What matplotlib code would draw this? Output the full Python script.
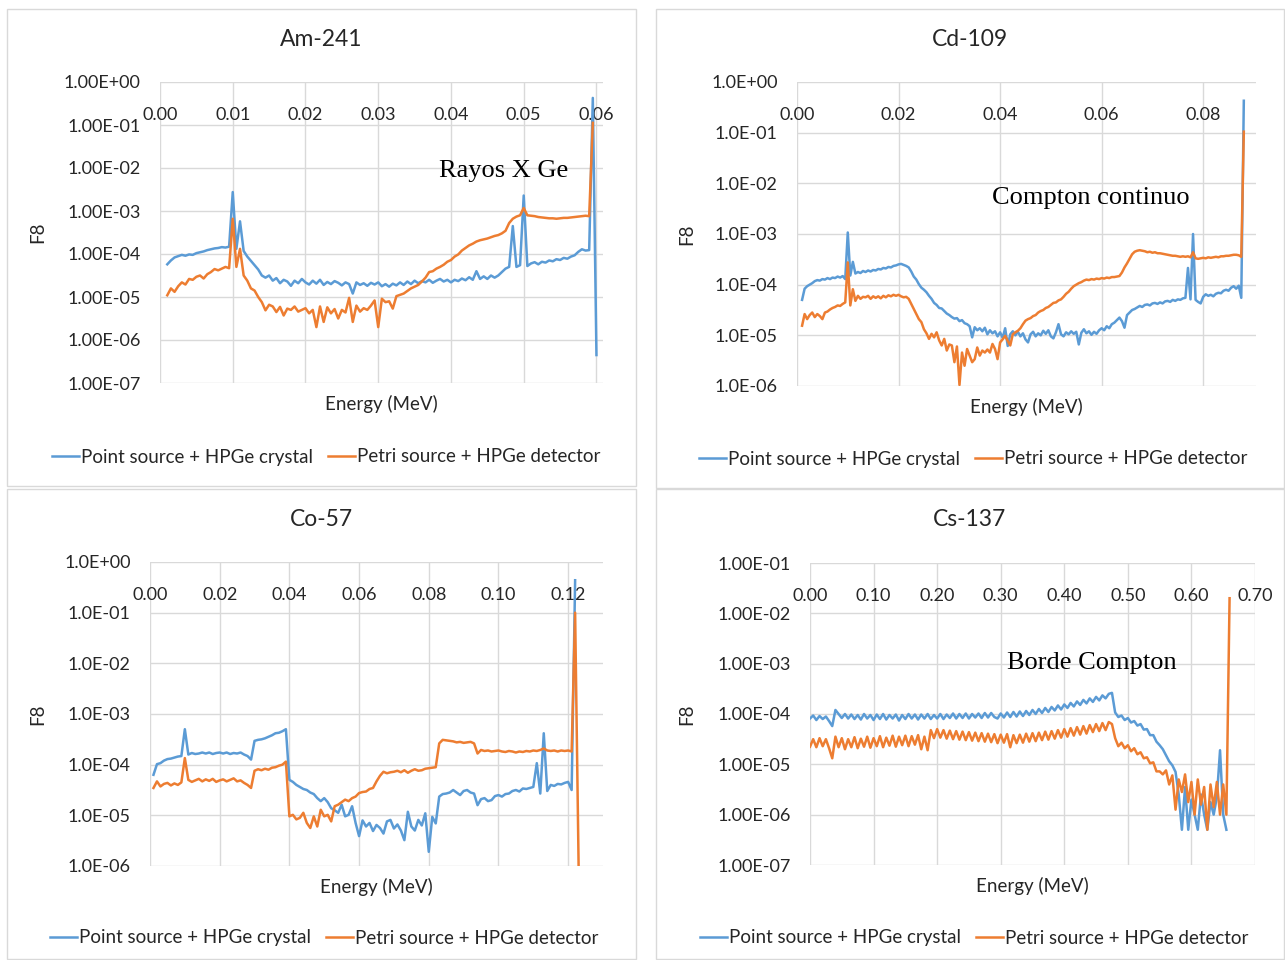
import numpy as np
import matplotlib.pyplot as plt
from matplotlib.patches import Rectangle
from matplotlib.ticker import FixedLocator, FuncFormatter, NullLocator

plt.rcParams['font.family'] = ['Lato', 'DejaVu Sans']

BLUE = '#5B9BD5'
ORANGE = '#ED7D31'
GRID = '#D9D9D9'
TEXT = '#262626'

labels = ['Point source + HPGe crystal', 'Petri source + HPGe detector']

# F8 tallies, stored as log10(F8) per energy bin
# Am-241: bins every 0.0005 MeV starting at 0.001 MeV
am_start, am_step = 0.001, 0.0005
am_point_log = [
    -4.24, -4.15, -4.08, -4.05, -4.02, -4.04, -4.01, -4.02, -3.98, -3.96,
    -3.94, -3.91, -3.89, -3.87, -3.86, -3.84, -3.85, -3.83, -2.56, -3.88,
    -3.24, -3.93, -4.06, -4.16, -4.26, -4.36, -4.50, -4.55, -4.50, -4.62,
    -4.56, -4.68, -4.60, -4.64, -4.74, -4.62, -4.68, -4.58, -4.66, -4.71,
    -4.62, -4.69, -4.60, -4.72, -4.65, -4.70, -4.63, -4.67, -4.73, -4.66,
    -4.70, -4.92, -4.66, -4.72, -4.68, -4.74, -4.67, -4.71, -4.66, -4.75,
    -4.70, -4.76, -4.69, -4.73, -4.66, -4.72, -4.64, -4.70, -4.62, -4.68,
    -4.63, -4.66, -4.60, -4.67, -4.62, -4.58, -4.64, -4.60, -4.66, -4.60,
    -4.63, -4.57, -4.61, -4.54, -4.60, -4.40, -4.58, -4.52, -4.58, -4.50,
    -4.55, -4.50, -4.42, -4.34, -4.30, -3.35, -4.30, -4.26, -2.64, -4.28,
    -4.22, -4.19, -4.24, -4.18, -4.20, -4.15, -4.17, -4.12, -4.14, -4.09,
    -4.11, -4.06, -4.03, -3.95, -3.89, -3.92, -3.91, -0.37, -6.35]
am_petri_log = [
    -4.96, -4.80, -4.88, -4.75, -4.66, -4.71, -4.58, -4.60, -4.53, -4.50,
    -4.57, -4.47, -4.42, -4.35, -4.38, -4.34, -4.30, -4.33, -3.18, -4.30,
    -3.88, -4.50, -4.62, -4.80, -4.85, -5.00, -5.12, -5.31, -5.18, -5.22,
    -5.35, -5.23, -5.43, -5.27, -5.30, -5.22, -5.34, -5.30, -5.26, -5.38,
    -5.30, -5.70, -5.22, -5.58, -5.24, -5.38, -5.28, -5.50, -5.30, -5.36,
    -5.02, -5.58, -5.20, -5.34, -5.26, -5.30, -5.20, -5.08, -5.70, -5.04,
    -5.12, -5.10, -5.27, -4.98, -4.95, -4.92, -4.86, -4.80, -4.76, -4.72,
    -4.64, -4.55, -4.42, -4.40, -4.34, -4.30, -4.25, -4.18, -4.14, -4.06,
    -4.01, -3.92, -3.86, -3.80, -3.76, -3.71, -3.68, -3.66, -3.64, -3.61,
    -3.58, -3.56, -3.52, -3.46, -3.28, -3.18, -3.13, -3.10, -2.93, -3.10,
    -3.11, -3.12, -3.14, -3.15, -3.16, -3.17, -3.17, -3.18, -3.17, -3.16,
    -3.16, -3.15, -3.14, -3.13, -3.12, -3.11, -3.12, -0.95]

# Cd-109: bins every 0.0005 MeV starting at 0.001 MeV
cd_start, cd_step = 0.001, 0.0005
cd_point_log = [
    -4.30, -4.08, -4.03, -4.00, -3.97, -3.93, -3.91, -3.92, -3.89, -3.90,
    -3.87, -3.89, -3.86, -3.87, -3.84, -3.86, -3.83, -3.89, -2.97, -3.82,
    -3.55, -3.78, -3.75, -3.77, -3.73, -3.75, -3.72, -3.74, -3.71, -3.72,
    -3.69, -3.70, -3.67, -3.68, -3.65, -3.66, -3.63, -3.62, -3.60, -3.59,
    -3.61, -3.63, -3.66, -3.74, -3.84, -3.90, -3.99, -4.06, -4.10, -4.15,
    -4.22, -4.28, -4.36, -4.40, -4.46, -4.47, -4.52, -4.57, -4.60, -4.64,
    -4.67, -4.66, -4.72, -4.70, -4.76, -4.78, -4.82, -5.04, -4.84, -4.90,
    -4.86, -4.92, -4.85, -4.98, -4.90, -4.96, -4.92, -5.02, -4.94, -5.05,
    -4.86, -5.21, -4.98, -4.92, -5.00, -4.93, -5.02, -4.96, -5.08, -5.14,
    -4.98, -4.93, -5.02, -4.96, -5.00, -4.91, -4.97, -4.90, -5.02, -5.06,
    -4.94, -4.78, -4.98, -5.02, -4.94, -4.98, -4.92, -4.97, -4.93, -5.18,
    -4.95, -4.88, -4.96, -4.92, -4.99, -4.93, -4.97, -4.90, -4.86, -4.90,
    -4.82, -4.86, -4.78, -4.75, -4.70, -4.65, -4.72, -4.85, -4.60, -4.55,
    -4.50, -4.48, -4.45, -4.42, -4.44, -4.40, -4.39, -4.41, -4.37, -4.36,
    -4.38, -4.35, -4.37, -4.33, -4.32, -4.34, -4.30, -4.32, -4.29, -4.30,
    -4.27, -4.26, -3.67, -4.29, -3.00, -4.30, -4.34, -4.37, -4.24, -4.19,
    -4.22, -4.20, -4.23, -4.18, -4.16, -4.17, -4.12, -4.10, -4.12, -4.06,
    -4.03, -4.08, -4.02, -4.26, -0.37]
cd_petri_log = [
    -4.81, -4.58, -4.68, -4.60, -4.55, -4.64, -4.58, -4.62, -4.68, -4.55,
    -4.53, -4.49, -4.46, -4.44, -4.41, -4.42, -4.38, -4.35, -3.56, -4.41,
    -4.09, -4.32, -4.22, -4.28, -4.24, -4.25, -4.22, -4.28, -4.23, -4.26,
    -4.23, -4.27, -4.22, -4.25, -4.21, -4.23, -4.20, -4.22, -4.20, -4.23,
    -4.25, -4.24, -4.28, -4.38, -4.48, -4.58, -4.68, -4.74, -4.88, -4.96,
    -5.07, -4.97, -5.04, -4.94, -5.10, -5.20, -5.07, -5.30, -5.18, -5.20,
    -5.53, -5.22, -5.98, -5.34, -5.60, -5.27, -5.40, -5.53, -5.47, -5.24,
    -5.40, -5.30, -5.34, -5.28, -5.34, -5.17, -5.27, -5.47, -5.14, -5.08,
    -5.01, -5.11, -5.20, -4.98, -4.94, -4.91, -4.86, -4.78, -4.71, -4.68,
    -4.66, -4.62, -4.60, -4.55, -4.52, -4.50, -4.46, -4.44, -4.40, -4.36,
    -4.35, -4.31, -4.29, -4.24, -4.18, -4.14, -4.08, -4.03, -4.00, -3.97,
    -3.95, -3.92, -3.90, -3.91, -3.89, -3.90, -3.88, -3.89, -3.87, -3.88,
    -3.86, -3.87, -3.85, -3.85, -3.84, -3.83, -3.76, -3.66, -3.58, -3.49,
    -3.40, -3.35, -3.33, -3.32, -3.33, -3.34, -3.36, -3.35, -3.37, -3.36,
    -3.38, -3.38, -3.39, -3.40, -3.41, -3.42, -3.43, -3.43, -3.44, -3.45,
    -3.44, -3.45, -3.44, -3.46, -3.36, -3.48, -3.49, -3.48, -3.47, -3.48,
    -3.46, -3.47, -3.46, -3.45, -3.46, -3.44, -3.44, -3.43, -3.43, -3.42,
    -3.41, -3.41, -3.42, -3.45, -0.98]

# Co-57: bins every 0.001 MeV starting at 0.001 MeV
co_start, co_step = 0.001, 0.001
co_point_log = [
    -4.20, -3.99, -3.97, -3.92, -3.89, -3.88, -3.86, -3.84, -3.83, -3.30,
    -3.80, -3.77, -3.79, -3.78, -3.76, -3.78, -3.76, -3.79, -3.77, -3.76,
    -3.78, -3.76, -3.79, -3.77, -3.78, -3.76, -3.80, -3.83, -3.90, -3.53,
    -3.51, -3.50, -3.48, -3.45, -3.42, -3.38, -3.37, -3.34, -3.30, -4.30,
    -4.34, -4.40, -4.44, -4.48, -4.50, -4.55, -4.58, -4.66, -4.72, -4.66,
    -4.74, -4.86, -4.90, -4.95, -4.79, -5.02, -4.99, -4.82, -5.15, -5.41,
    -5.10, -5.22, -5.15, -5.31, -5.19, -5.25, -5.36, -5.12, -5.09, -5.26,
    -5.18, -5.30, -5.49, -4.93, -5.22, -5.30, -5.09, -5.20, -4.96, -5.72,
    -5.03, -5.16, -4.63, -4.58, -4.57, -4.55, -4.50, -4.55, -4.60, -4.52,
    -4.50, -4.55, -4.57, -4.80, -4.68, -4.66, -4.72, -4.70, -4.62, -4.60,
    -4.63, -4.58, -4.57, -4.52, -4.50, -4.53, -4.47, -4.48, -4.46, -4.44,
    -3.97, -4.57, -3.38, -4.52, -4.40, -4.42, -4.38, -4.39, -4.36, -4.34,
    -4.50, -0.36]
co_petri_log = [
    -4.46, -4.33, -4.43, -4.38, -4.36, -4.41, -4.37, -4.40, -4.35, -3.87,
    -4.30, -4.34, -4.31, -4.28, -4.33, -4.29, -4.32, -4.28, -4.34, -4.31,
    -4.29, -4.33, -4.30, -4.27, -4.33, -4.31, -4.36, -4.40, -4.46, -4.12,
    -4.09, -4.11, -4.08, -4.10, -4.06, -4.05, -4.02, -4.00, -3.94, -5.02,
    -4.99, -5.08, -5.05, -4.95, -5.15, -5.25, -5.02, -5.22, -4.89, -5.02,
    -4.99, -5.12, -4.82, -4.79, -4.74, -4.69, -4.72, -4.66, -4.63, -4.56,
    -4.54, -4.53, -4.48, -4.46, -4.33, -4.22, -4.14, -4.17, -4.15, -4.14,
    -4.12, -4.15, -4.11, -4.16, -4.12, -4.09, -4.12, -4.11, -4.08, -4.07,
    -4.06, -4.05, -3.58, -3.51, -3.52, -3.53, -3.54, -3.56, -3.55, -3.57,
    -3.56, -3.55, -3.58, -3.78, -3.71, -3.73, -3.72, -3.74, -3.73, -3.72,
    -3.74, -3.75, -3.73, -3.74, -3.76, -3.74, -3.75, -3.73, -3.74, -3.72,
    -3.73, -3.71, -3.68, -3.72, -3.73, -3.72, -3.74, -3.72, -3.73, -3.72,
    -3.74, -1.00, -6.00]

# Cs-137: bins every 0.005 MeV starting at 0 MeV
cs_start, cs_step = 0.0, 0.005
cs_point_log = [
    -4.09, -4.03, -4.12, -4.04, -4.10, -4.05, -4.14, -4.24, -3.92, -4.00,
    -4.08, -4.00, -4.09, -4.01, -4.10, -4.02, -4.11, -4.00, -4.09, -4.02,
    -4.12, -4.01, -4.10, -4.00, -4.11, -4.02, -4.09, -4.01, -4.13, -4.02,
    -4.10, -4.00, -4.09, -4.01, -4.11, -4.01, -4.09, -4.00, -4.10, -4.02,
    -4.09, -4.00, -4.10, -4.01, -4.08, -3.99, -4.09, -4.00, -4.08, -3.99,
    -4.09, -4.00, -4.07, -3.99, -4.08, -3.98, -4.07, -3.98, -4.06, -4.09,
    -3.99, -4.07, -3.97, -4.06, -3.96, -4.05, -3.95, -4.04, -3.94, -4.02,
    -3.92, -4.00, -3.90, -3.98, -3.88, -3.96, -3.86, -3.93, -3.83, -3.91,
    -3.81, -3.88, -3.78, -3.85, -3.75, -3.82, -3.72, -3.79, -3.69, -3.76,
    -3.66, -3.73, -3.63, -3.69, -3.60, -3.58, -3.97, -4.06, -4.03, -4.12,
    -4.08, -4.17, -4.14, -4.23, -4.20, -4.31, -4.30, -4.42, -4.42, -4.55,
    -4.62, -4.70, -4.82, -4.94, -5.02, -5.15, -5.60, -6.30, -5.45, -6.30,
    -5.70, -6.00, -6.30, -5.60, -6.00, -6.30, -5.75, -6.00, -5.65, -4.72,
    -6.00, -6.30]
cs_petri_log = [
    -4.65, -4.50, -4.66, -4.48, -4.64, -4.50, -4.68, -4.88, -4.45, -4.66,
    -4.48, -4.70, -4.50, -4.66, -4.46, -4.68, -4.49, -4.65, -4.45, -4.67,
    -4.48, -4.64, -4.44, -4.66, -4.47, -4.63, -4.43, -4.65, -4.45, -4.62,
    -4.43, -4.64, -4.44, -4.61, -4.42, -4.70, -4.45, -4.72, -4.32, -4.48,
    -4.30, -4.47, -4.32, -4.49, -4.33, -4.50, -4.34, -4.51, -4.35, -4.52,
    -4.36, -4.53, -4.37, -4.54, -4.38, -4.55, -4.39, -4.56, -4.40, -4.58,
    -4.41, -4.57, -4.40, -4.66, -4.42, -4.58, -4.41, -4.57, -4.39, -4.55,
    -4.38, -4.54, -4.37, -4.52, -4.35, -4.51, -4.34, -4.49, -4.32, -4.47,
    -4.30, -4.45, -4.28, -4.43, -4.26, -4.41, -4.24, -4.39, -4.22, -4.36,
    -4.20, -4.34, -4.18, -4.32, -4.16, -4.20, -4.48, -4.64, -4.57, -4.68,
    -4.62, -4.74, -4.68, -4.80, -4.76, -4.88, -4.86, -4.98, -4.96, -5.14,
    -5.14, -5.20, -5.12, -5.40, -5.22, -5.90, -5.30, -5.55, -5.20, -5.75,
    -5.35, -6.00, -5.30, -5.80, -5.45, -6.30, -5.40, -5.85, -5.35, -6.00,
    -5.40, -6.00, -1.70]

W, H = 1285, 960
fig = plt.figure(figsize=(W / 100, H / 100), dpi=100)


def fx(x):
    return x / W


def fy(y):
    return 1 - y / H


def draw_panel(frame, plot, title, start, step, point_log, petri_log,
               xticks, xmax, ylo, yhi, yfmt, title_y, legend_xy, note=None):
    # chart area border
    l, t, r, b = frame
    fig.patches.append(Rectangle((fx(l), fy(b)), fx(r - l), (b - t) / H,
                                 transform=fig.transFigure, fill=False,
                                 edgecolor=GRID, lw=1))
    pl, pt, pr, pb = plot
    ax = fig.add_axes([fx(pl), fy(pb), fx(pr - pl), (pb - pt) / H])

    e_point = start + step * np.arange(len(point_log))
    e_petri = start + step * np.arange(len(petri_log))
    ax.plot(e_point, 10.0 ** np.array(point_log), color=BLUE, lw=1.8,
            label=labels[0])
    ax.plot(e_petri, 10.0 ** np.array(petri_log), color=ORANGE, lw=1.8,
            label=labels[1])

    ax.set_yscale('log')
    ax.set_ylim(10.0 ** ylo, 10.0 ** yhi)
    ax.set_xlim(0, xmax)
    ax.yaxis.set_major_locator(FixedLocator([10.0 ** k for k in range(ylo, yhi + 1)]))
    ax.yaxis.set_minor_locator(NullLocator())
    ax.yaxis.set_major_formatter(FuncFormatter(lambda v, p: yfmt % v))
    ax.xaxis.set_major_locator(FixedLocator(xticks))
    ax.xaxis.set_major_formatter(FuncFormatter(lambda v, p: '%.2f' % v))

    # category axis crosses at the top of the value axis
    ax.spines['bottom'].set_position(('axes', 1.0))
    for s in ax.spines.values():
        s.set_visible(False)
    ax.tick_params(axis='both', length=0, labelsize=13, colors=TEXT)
    ax.tick_params(axis='x', pad=18)
    ax.tick_params(axis='y', pad=14)
    ax.grid(True, color=GRID, lw=1)
    ax.set_axisbelow(True)

    cx = (l + r) / 2
    fig.text(fx(cx), fy(title_y), title, ha='center', va='center',
             fontsize=16.5, color=TEXT)
    fig.text(fx((pl + pr) / 2), fy(pb + 21), 'Energy (MeV)', ha='center',
             va='center', fontsize=13.5, color=TEXT)
    fig.text(fx(l + 31), fy((pt + pb) / 2), 'F8', ha='center', va='center',
             rotation=90, fontsize=13.5, color=TEXT)
    ax.legend(loc='center', bbox_to_anchor=(fx(legend_xy[0]), fy(legend_xy[1])),
              bbox_transform=fig.transFigure, ncol=2, frameon=False,
              fontsize=13.5, handlelength=1.45, handletextpad=0.1,
              columnspacing=0.8, labelcolor=TEXT)
    if note:
        text, nx, ny = note
        fig.text(fx(nx), fy(ny), text, ha='center', va='center',
                 family='Liberation Serif', fontsize=19, color='black')
    return ax


draw_panel((7, 9, 636, 486), (160, 82, 603, 383), 'Am-241',
           am_start, am_step, am_point_log, am_petri_log,
           [0.0, 0.01, 0.02, 0.03, 0.04, 0.05, 0.06], 0.0609, -7, 0, '%.2E',
           40, (326, 457), ('Rayos X Ge', 504, 171))
draw_panel((656, 9, 1284, 488), (797, 82, 1256, 386), 'Cd-109',
           cd_start, cd_step, cd_point_log, cd_petri_log,
           [0.0, 0.02, 0.04, 0.06, 0.08], 0.0904, -6, 0, '%.1E',
           40, (973, 459), ('Compton continuo', 1091, 198))
draw_panel((7, 489, 636, 959), (150, 562, 603, 866), 'Co-57',
           co_start, co_step, co_point_log, co_petri_log,
           [0.0, 0.02, 0.04, 0.06, 0.08, 0.10, 0.12], 0.130, -6, 0, '%.1E',
           520, (324, 938))
draw_panel((656, 489, 1284, 959), (810, 563, 1255, 865), 'Cs-137',
           cs_start, cs_step, cs_point_log, cs_petri_log,
           [0.0, 0.1, 0.2, 0.3, 0.4, 0.5, 0.6, 0.7], 0.70, -7, -1, '%.2E',
           520, (974, 938), ('Borde Compton', 1092, 663))

fig.savefig('out.png', dpi=100, facecolor='white')
